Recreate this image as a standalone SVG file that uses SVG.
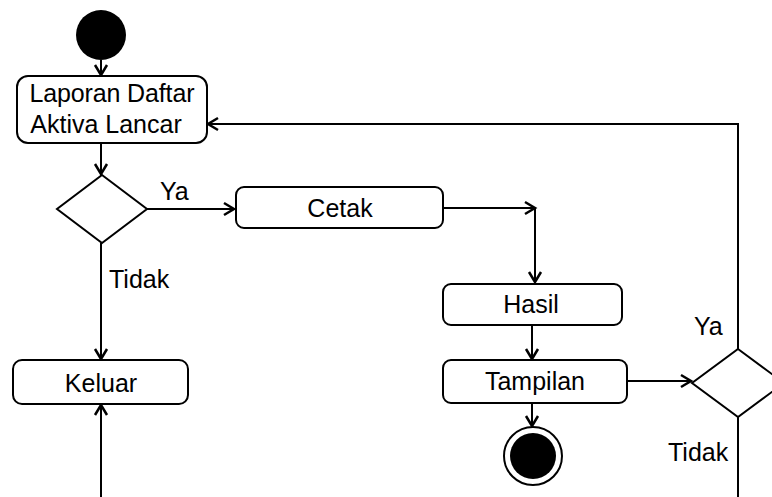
<svg xmlns="http://www.w3.org/2000/svg" width="772" height="497" viewBox="0 0 772 497">
<style>
.box{fill:#fff;stroke:#000;stroke-width:2}
.dia{fill:#fff;stroke:#000;stroke-width:2}
.lbl{font-family:"Liberation Sans",Arial,sans-serif;font-size:25px;fill:#000}
.c{text-anchor:middle}
.edge{fill:none;stroke:#000;stroke-width:2}
</style>
<defs>
<marker id="arr" markerUnits="userSpaceOnUse" markerWidth="16" markerHeight="16" viewBox="-12 -8 16 16" refX="0" refY="0" orient="auto">
<path d="M-10,-6 L0,0 L-10,6" fill="none" stroke="#000" stroke-width="2.5"/>
</marker>
</defs>
<g id="connectors">
<path class="edge" d="M101,60 L101,75" marker-end="url(#arr)"/>
<path class="edge" d="M101,143 L101,174" marker-end="url(#arr)"/>
<path class="edge" d="M147,209 L234,209" marker-end="url(#arr)"/>
<path class="edge" d="M443,208 L535,208" marker-end="url(#arr)"/>
<path class="edge" d="M535,208 L535,282" marker-end="url(#arr)"/>
<path class="edge" d="M532,325 L532,359" marker-end="url(#arr)"/>
<path class="edge" d="M532,403 L532,426" marker-end="url(#arr)"/>
<path class="edge" d="M627,381 L691,381" marker-end="url(#arr)"/>
<path class="edge" d="M738,349 L738,124 L208,124" marker-end="url(#arr)"/>
<path class="edge" d="M738,417 L738,497"/>
<path class="edge" d="M101,243 L101,359" marker-end="url(#arr)"/>
<path class="edge" d="M101,497 L101,405" marker-end="url(#arr)"/>
<text class="lbl" x="160" y="200">Ya</text>
<text class="lbl" x="109" y="288">Tidak</text>
<text class="lbl" x="694" y="335">Ya</text>
<text class="lbl" x="668" y="461">Tidak</text>
</g>
<g id="start"><circle cx="101" cy="35" r="25" fill="#000"/></g>
<g id="laporan">
<rect class="box" x="17" y="76" width="190" height="67" rx="11"/>
<text class="lbl" x="112" y="102" text-anchor="middle" textLength="165">Laporan Daftar</text>
<text class="lbl" x="106" y="133" text-anchor="middle">Aktiva Lancar</text>
</g>
<g id="decision1"><polygon class="dia" points="102,175 147,209 102,243 57,209"/></g>
<g id="cetak">
<rect class="box" x="236" y="187" width="207" height="41" rx="8"/>
<text class="lbl c" x="340" y="217">Cetak</text>
</g>
<g id="hasil">
<rect class="box" x="443" y="284" width="179" height="41" rx="8"/>
<text class="lbl c" x="531" y="313">Hasil</text>
</g>
<g id="tampilan">
<rect class="box" x="443" y="360" width="184" height="43" rx="8"/>
<text class="lbl c" x="535" y="390">Tampilan</text>
</g>
<g id="end">
<circle cx="533" cy="456" r="29" fill="#fff" stroke="#000" stroke-width="2"/>
<circle cx="533" cy="456" r="23" fill="#000"/>
</g>
<g id="decision2"><polygon class="dia" points="738,349 784,383 738,417 692,383"/></g>
<g id="keluar">
<rect class="box" x="13" y="360" width="175" height="44" rx="9"/>
<text class="lbl c" x="101" y="392">Keluar</text>
</g>
</svg>
